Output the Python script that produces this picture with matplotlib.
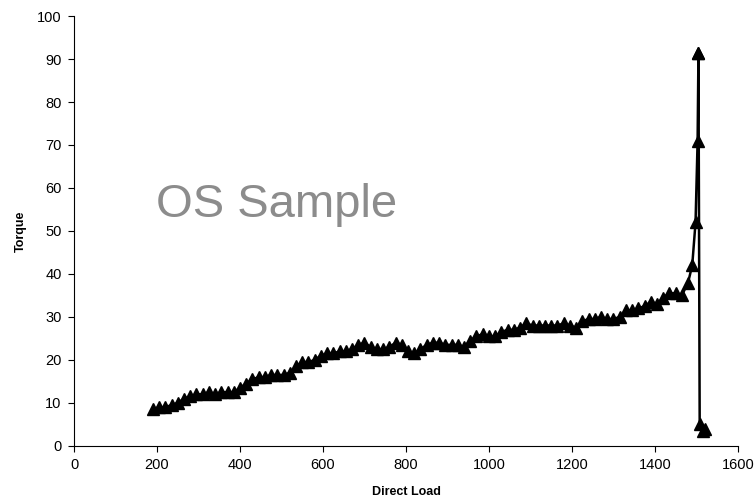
import matplotlib
matplotlib.use("Agg")
from matplotlib import pyplot as plt

# ---------------- data ---------------------------------------------
load = [190, 205, 220, 235, 250, 265, 280, 295, 310, 325, 340, 355, 370, 385,
        400, 415, 430, 445, 460, 475, 490, 505, 520, 535, 550, 565, 580, 595,
        610, 625, 640, 655, 670, 685, 700, 715, 730, 745, 760, 775, 790, 805,
        820, 835, 850, 865, 880, 895, 910, 925, 940, 955, 970, 985, 1000, 1015,
        1030, 1045, 1060, 1075, 1090, 1105, 1120, 1135, 1150, 1165, 1180, 1195,
        1210, 1225, 1240, 1255, 1270, 1285, 1300, 1315, 1330, 1345, 1360, 1375,
        1390, 1405, 1420, 1435, 1450, 1465, 1480, 1490, 1498, 1503, 1505, 1505,
        1508, 1515, 1520]
torque = [8.5, 9.0, 9.0, 9.5, 10.0, 11.0, 11.5, 12.0, 12.0, 12.5, 12.0, 12.5,
          12.5, 12.5, 13.5, 14.5, 15.5, 16.0, 16.0, 16.5, 16.5, 16.5, 17.0, 18.5,
          19.5, 19.5, 20.0, 21.0, 21.5, 21.5, 22.0, 22.0, 22.5, 23.5, 24.0, 23.0,
          22.5, 22.5, 23.0, 24.0, 23.5, 22.0, 21.5, 22.5, 23.5, 24.0, 24.0, 23.5,
          23.5, 23.5, 23.0, 24.5, 25.5, 26.0, 25.5, 25.5, 26.5, 27.0, 27.0, 27.5,
          28.5, 28.0, 28.0, 28.0, 28.0, 28.0, 28.5, 28.0, 27.5, 29.0, 29.5, 29.5,
          30.0, 29.5, 29.5, 30.0, 31.5, 31.5, 32.0, 32.5, 33.5, 33.0, 34.5, 35.5,
          35.5, 35.0, 38.0, 42.0, 52.0, 71.0, 91.5, 91.5,
          5.0, 3.5, 4.0]

plt.rcParams['font.family'] = ['Liberation Sans', 'DejaVu Sans']

fig = plt.figure(figsize=(7.56, 5.01), dpi=100)
ax = fig.add_axes([0.098, 0.110, 0.878, 0.858])

ax.plot(load, torque, color='black', linewidth=1.8, marker='^',
        markersize=8.5, markerfacecolor='black', markeredgecolor='black')

ax.set_xlim(0, 1600)
ax.set_ylim(0, 100)
ax.set_xticks(range(0, 1601, 200))
ax.set_yticks(range(0, 101, 10))
ax.tick_params(direction='out', length=4, width=0.8, labelsize=10.5,
               colors='black', pad=5)
ax.spines['top'].set_visible(False)
ax.spines['right'].set_visible(False)
ax.spines['left'].set_linewidth(0.8)
ax.spines['bottom'].set_linewidth(0.8)

ax.set_xlabel('Direct Load', fontsize=9, fontweight='bold', labelpad=10)
ax.set_ylabel('Torque', fontsize=9, fontweight='bold', labelpad=7)

# watermark
fig.text(0.366, 0.591, 'OS Sample', fontsize=34, color='#8c8c8c',
         ha='center', va='center')

fig.savefig('out.png', dpi=100)
